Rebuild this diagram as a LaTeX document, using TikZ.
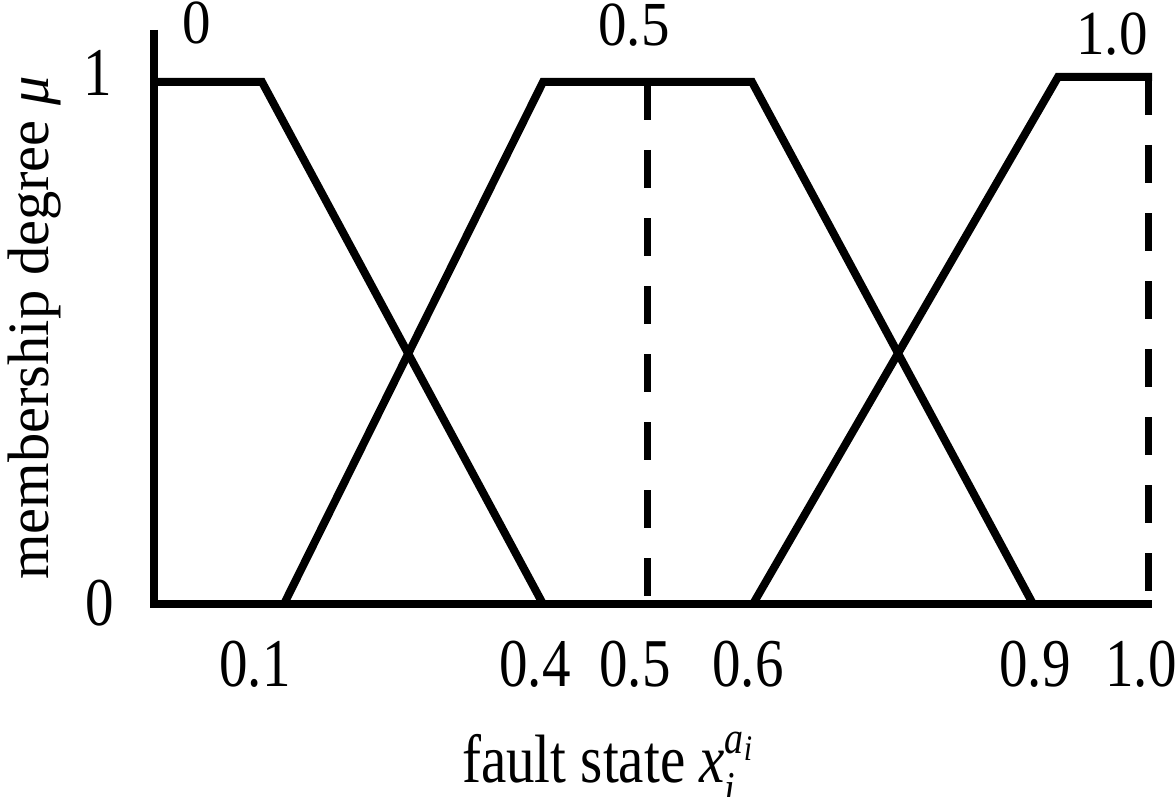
\documentclass[tikz,border=0pt]{standalone}
\usepackage{fontspec}
\setmainfont{Liberation Serif}
\newcommand{\vs}[1]{\scalebox{1}[1.2]{#1}}
\newcommand{\vt}[1]{\scalebox{1}[1.1]{#1}}
\begin{document}
\begin{tikzpicture}[x=1pt,y=-1pt,
  curve/.style={line width=8pt, line join=miter, line cap=butt},
  dashln/.style={line width=7pt, dash pattern=on 38pt off 30pt},
  lab/.style={font=\fontsize{57}{60}\selectfont, inner sep=0pt, anchor=base}]
\useasboundingbox (0,0) rectangle (1176,797);
% axes
\coordinate (ytop) at (154,30);
\coordinate (orig) at (154,604);
\coordinate (xend) at (1152,604);
\draw[curve] (ytop) -- (orig) -- (xend);
% membership functions
\coordinate (a1) at (158,82);
\coordinate (a2) at (262,82);
\coordinate (a3) at (543,604);
\draw[curve] (a1) -- (a2) -- (a3);
\coordinate (b1) at (284,604);
\coordinate (b2) at (543,82);
\coordinate (b3) at (752,82);
\coordinate (b4) at (1033,604);
\draw[curve] (b1) -- (b2) -- (b3) -- (b4);
\coordinate (c1) at (753,604);
\coordinate (c2) at (1058,77);
\coordinate (c3) at (1152,77);
\draw[curve] (c1) -- (c2) -- (c3);
% dashed verticals
\coordinate (d1) at (647,82);
\coordinate (d2) at (647,604);
\draw[dashln] (d1) -- (d2);
\coordinate (e1) at (1148,77);
\coordinate (e2) at (1148,604);
\draw[dashln] (e1) -- (e2);
% top labels
\node[lab] (t0) at (197,44) {\vt{0}};
\node[lab] (t5) at (634,46) {\vt{0.5}};
\node[lab] (t10) at (1112,55) {\vt{1.0}};
% y tick labels
\node[lab] (y1) at (98,96) {\vs{1}};
\node[lab] (y0) at (100,625) {\vs{0}};
% x tick labels
\node[lab] (x1) at (255,686) {\vs{0.1}};
\node[lab] (x4) at (535,686) {\vs{0.4}};
\node[lab] (x5) at (635,686) {\vs{0.5}};
\node[lab] (x6) at (748,686) {\vs{0.6}};
\node[lab] (x9) at (1035,686) {\vs{0.9}};
\node[lab] (x10) at (1141,686) {\vs{1.0}};
% axis titles
\node[lab, anchor=base west] (xt) at (462,782) {\vs{fault state \textit{x}\rlap{\raisebox{-0.32em}{\fontsize{38}{40}\selectfont\textit{i}}}\raisebox{0.42em}{\fontsize{38}{40}\selectfont\textit{a}\raisebox{-0.15em}{\fontsize{30}{32}\selectfont\textit{i}}}}};
\node[lab, font=\fontsize{58.5}{60}\selectfont, anchor=base, rotate=90] (yt) at (48,328) {membership degree \textit{μ}};
\end{tikzpicture}
\end{document}
